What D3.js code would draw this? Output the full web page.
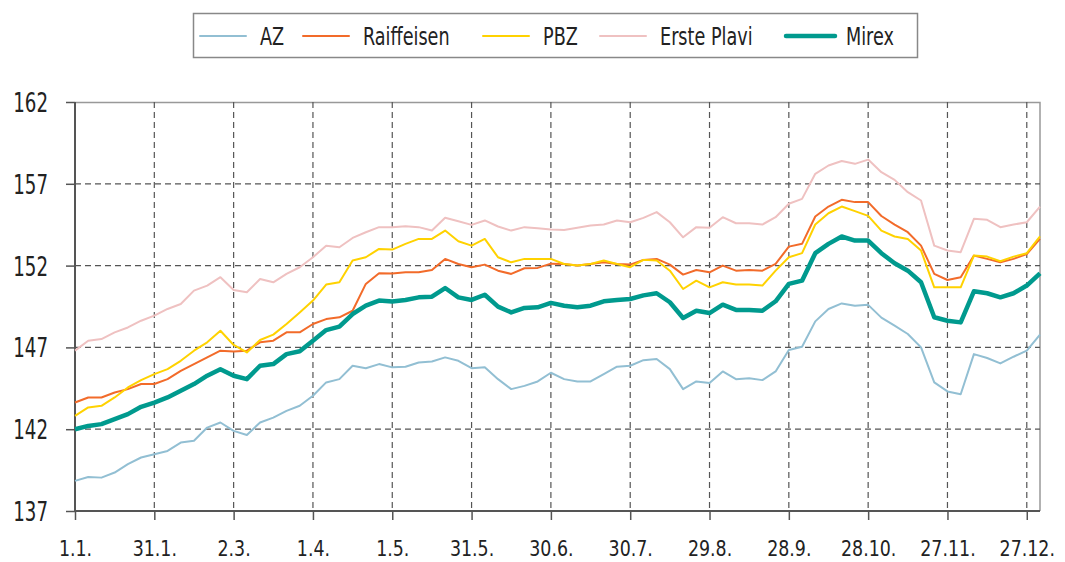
<!DOCTYPE html>
<html>
<head>
<meta charset="utf-8">
<script src="https://cdn.jsdelivr.net/npm/d3@7"></script>
<style>
  body { margin: 0; background: #fff; }
  svg { display: block; }
  text { font-family: "Liberation Sans Narrow", "Arial Narrow", "DejaVu Sans Condensed", sans-serif; fill: #222; }
</style>
</head>
<body>
<div id="chart"></div>
<script>
// day of year (0 = 1.1.), sampled every 5 days
var days = [0,5,10,15,20,25,30,35,40,45,50,55,60,65,70,75,80,85,90,95,100,105,110,115,120,125,130,135,140,145,150,155,160,165,170,175,180,185,190,195,200,205,210,215,220,225,230,235,240,245,250,255,260,265,270,275,280,285,290,295,300,305,310,315,320,325,330,335,340,345,350,355,360,365];

var azValues = [138.84,139.08,139.04,139.35,139.86,140.27,140.47,140.67,141.18,141.29,142.1,142.41,141.9,141.65,142.41,142.71,143.12,143.43,144.04,144.86,145.06,145.88,145.73,145.98,145.78,145.82,146.08,146.14,146.39,146.18,145.73,145.78,145.06,144.45,144.65,144.92,145.45,145.06,144.92,144.92,145.37,145.82,145.88,146.22,146.29,145.67,144.45,144.92,144.83,145.53,145.06,145.12,145.0,145.53,146.84,147.04,148.59,149.35,149.69,149.55,149.6,148.82,148.33,147.82,147.0,144.86,144.31,144.14,146.59,146.35,146.02,146.43,146.8,147.78];

var raiffValues = [143.63,143.94,143.94,144.24,144.45,144.76,144.76,145.06,145.57,145.98,146.39,146.8,146.75,146.8,147.31,147.41,147.92,147.92,148.43,148.73,148.84,149.24,150.88,151.53,151.51,151.59,151.59,151.73,152.41,152.1,151.9,152.06,151.69,151.49,151.84,151.86,152.12,152.1,152.0,152.1,152.2,152.1,152.06,152.35,152.41,152.06,151.45,151.73,151.59,152.0,151.69,151.73,151.69,152.1,153.16,153.33,155.0,155.61,156.02,155.88,155.88,155.03,154.51,154.04,153.22,151.49,151.12,151.29,152.61,152.41,152.2,152.41,152.71,153.63];

var pbzValues = [142.82,143.33,143.43,143.94,144.55,145.0,145.37,145.67,146.18,146.8,147.31,148.02,147.15,146.69,147.45,147.78,148.43,149.14,149.86,150.84,150.98,152.31,152.51,153.02,152.98,153.33,153.63,153.63,154.14,153.49,153.22,153.63,152.51,152.2,152.41,152.41,152.41,152.1,152.0,152.1,152.31,152.1,151.9,152.35,152.31,151.69,150.57,151.08,150.67,150.98,150.84,150.84,150.78,151.69,152.51,152.76,154.51,155.2,155.61,155.33,155.04,154.14,153.78,153.63,152.92,150.67,150.67,150.67,152.61,152.55,152.27,152.55,152.76,153.78];

var ersteValues = [146.8,147.41,147.51,147.92,148.22,148.63,148.94,149.35,149.65,150.47,150.78,151.29,150.51,150.37,151.18,150.98,151.49,151.9,152.51,153.22,153.12,153.69,154.04,154.35,154.35,154.41,154.35,154.14,154.92,154.71,154.49,154.76,154.39,154.14,154.35,154.29,154.2,154.18,154.31,154.45,154.51,154.76,154.65,154.92,155.27,154.65,153.73,154.35,154.31,154.96,154.59,154.59,154.51,154.96,155.78,156.08,157.61,158.12,158.39,158.22,158.48,157.71,157.24,156.49,155.98,153.22,152.92,152.82,154.86,154.8,154.35,154.51,154.65,155.61];

var mirexValues = [142.0,142.2,142.31,142.61,142.92,143.37,143.63,143.94,144.35,144.76,145.27,145.67,145.27,145.06,145.88,145.98,146.59,146.76,147.41,148.06,148.27,149.04,149.55,149.86,149.8,149.9,150.06,150.1,150.63,150.06,149.9,150.22,149.49,149.14,149.41,149.45,149.72,149.55,149.45,149.55,149.82,149.9,149.96,150.18,150.31,149.76,148.8,149.24,149.1,149.61,149.29,149.29,149.24,149.82,150.88,151.08,152.76,153.33,153.78,153.53,153.53,152.76,152.14,151.69,150.98,148.84,148.63,148.53,150.43,150.31,150.06,150.31,150.78,151.53];

var seriesNames = ["AZ", "Raiffeisen", "PBZ", "Erste Plavi", "Mirex"];
var seriesColors = ["#92bfd3", "#f26b2a", "#ffd200", "#efc1c1", "#009a8e"];
var seriesWidths = [2, 2, 2, 2, 4.5];
var seriesData = [azValues, raiffValues, pbzValues, ersteValues, mirexValues];

var xTickDays = [0, 30, 60, 90, 120, 150, 180, 210, 240, 270, 300, 330, 360];
var xTickLabels = ["1.1.", "31.1.", "2.3.", "1.4.", "1.5.", "31.5.", "30.6.", "30.7.", "29.8.", "28.9.", "28.10.", "27.11.", "27.12."];
var yTicks = [137, 142, 147, 152, 157, 162];

var svgWidth = 1065;
var svgHeight = 562;
var margin = { top: 102, right: 25, bottom: 51, left: 75 };
var width = svgWidth - margin.left - margin.right;
var height = svgHeight - margin.top - margin.bottom;

var svg = d3.select("#chart")
    .append("svg")
    .attr("width", svgWidth)
    .attr("height", svgHeight);

var chartGroup = svg.append("g")
    .attr("transform", "translate(" + margin.left + "," + margin.top + ")");

var xScale = d3.scaleLinear().domain([0, 365]).range([0, width]);
var yScale = d3.scaleLinear().domain([137, 162]).range([height, 0]);

// frame (top / right)
chartGroup.append("path")
    .attr("d", "M0,0.5H" + width + "V" + height)
    .attr("fill", "none")
    .attr("stroke", "#999")
    .attr("stroke-width", 1.5);

// grid
chartGroup.selectAll(".hgrid")
    .data(yTicks.filter(function(d) { return d > 137 && d < 162; }))
    .enter().append("line")
    .attr("x1", 0).attr("x2", width)
    .attr("y1", function(d) { return yScale(d); })
    .attr("y2", function(d) { return yScale(d); })
    .attr("stroke", "#555")
    .attr("stroke-width", 1.2)
    .attr("stroke-dasharray", "6,4");

chartGroup.selectAll(".vgrid")
    .data(xTickDays.slice(1))
    .enter().append("line")
    .attr("x1", function(d) { return xScale(d); })
    .attr("x2", function(d) { return xScale(d); })
    .attr("y1", 0).attr("y2", height)
    .attr("stroke", "#555")
    .attr("stroke-width", 1.2)
    .attr("stroke-dasharray", "6,4");

// axes
var bottomAxis = d3.axisBottom(xScale)
    .tickValues(xTickDays)
    .tickFormat(function(d, i) { return xTickLabels[i]; })
    .tickSize(9);
var leftAxis = d3.axisLeft(yScale)
    .tickValues(yTicks)
    .tickSize(9);

var xAxisG = chartGroup.append("g")
    .attr("transform", "translate(0," + height + ")")
    .call(bottomAxis);
var yAxisG = chartGroup.append("g")
    .call(leftAxis);

[xAxisG, yAxisG].forEach(function(g) {
    g.select(".domain").attr("stroke", "#555").attr("stroke-width", 2);
    g.selectAll(".tick line").attr("stroke", "#555").attr("stroke-width", 1.5);
    g.selectAll(".tick text").attr("fill", "#222").attr("x", 0).attr("y", 0).attr("dy", null);
});
xAxisG.select(".domain").attr("d", "M0,0H" + width);
yAxisG.select(".domain").attr("d", "M0," + height + "V0");

// narrow condensed look: squeeze the glyphs horizontally
xAxisG.selectAll(".tick text")
    .attr("font-size", 22)
    .attr("transform", "translate(0,45) scale(0.88,1)");
yAxisG.selectAll(".tick text")
    .attr("font-size", 27)
    .attr("transform", "translate(-27,9.5) scale(0.75,1)");

// lines
var line = d3.line()
    .x(function(d, i) { return xScale(days[i]); })
    .y(function(d) { return yScale(d); });

chartGroup.selectAll(".series")
    .data(seriesData)
    .enter().append("path")
    .attr("class", "series")
    .attr("d", function(d) { return line(d); })
    .attr("fill", "none")
    .attr("stroke", function(d, i) { return seriesColors[i]; })
    .attr("stroke-width", function(d, i) { return seriesWidths[i]; })
    .attr("stroke-linejoin", "round");

// legend
var legendX = [200, 303, 483, 600, 786];
var legend = svg.append("g");
legend.append("rect")
    .attr("x", 193.5).attr("y", 13.5)
    .attr("width", 724).attr("height", 44)
    .attr("fill", "#fff")
    .attr("stroke", "#888")
    .attr("stroke-width", 1.5);

var items = legend.selectAll(".item")
    .data(seriesNames)
    .enter().append("g")
    .attr("transform", function(d, i) { return "translate(" + legendX[i] + ",36)"; });
items.append("line")
    .attr("x1", 0).attr("x2", function(d, i) { return i === 4 ? 49 : 46; })
    .attr("stroke", function(d, i) { return seriesColors[i]; })
    .attr("stroke-width", function(d, i) { return i === 4 ? 4.5 : 2; })
    .attr("stroke-linecap", "round");
items.append("text")
    .attr("font-size", 24.5)
    .attr("transform", "translate(60,9) scale(0.8,1)")
    .text(function(d) { return d; });
</script>
</body>
</html>
